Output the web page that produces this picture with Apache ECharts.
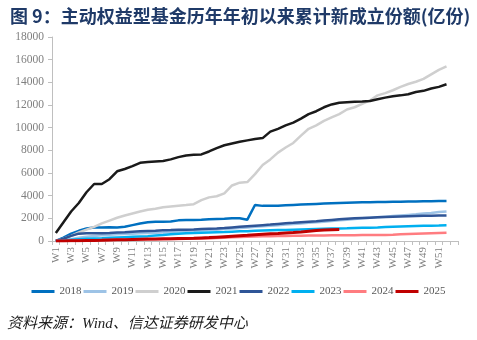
<!DOCTYPE html>
<html>
<head>
<meta charset="utf-8">
<script src="https://cdn.jsdelivr.net/npm/echarts@6/dist/echarts.min.js"></script>
<style>
  html, body { margin: 0; padding: 0; background: #fff; }
  #chart { width: 477px; height: 340px; }
</style>
</head>
<body>
<div id="chart"></div>
<script>
// Week labels (the trailing blank slot leaves room after W52)
const weeks = [];
for (let i = 1; i <= 52; i++) weeks.push('W' + i);
weeks.push('');

const years = ['2018', '2019', '2020', '2021', '2022', '2023', '2024', '2025'];
const colors = ['#0070C0', '#9DC3E6', '#CFCFCF', '#1A1A1A', '#2F5597', '#00B0F0', '#FF7C80', '#C00000'];

// Cumulative new fund shares since the start of each year (亿份), W1..W52
const s2018 = [0, 300, 650, 900, 1100, 1200, 1200, 1220, 1200, 1250, 1400, 1550, 1650, 1700, 1700, 1720, 1820, 1850, 1860, 1880, 1920, 1950, 1970, 2000, 2000, 1880, 3180, 3100, 3100, 3120, 3150, 3180, 3210, 3240, 3270, 3300, 3330, 3360, 3380, 3400, 3410, 3420, 3440, 3450, 3460, 3470, 3480, 3490, 3500, 3510, 3520, 3530];
const s2019 = [0, 50, 150, 280, 380, 450, 500, 550, 600, 620, 650, 680, 700, 730, 760, 800, 830, 860, 900, 930, 970, 1000, 1050, 1100, 1150, 1200, 1250, 1300, 1350, 1400, 1450, 1500, 1550, 1600, 1650, 1700, 1760, 1820, 1880, 1940, 2000, 2050, 2100, 2150, 2200, 2250, 2300, 2350, 2420, 2480, 2550, 2600];
const s2020 = [0, 200, 450, 750, 1000, 1250, 1550, 1800, 2050, 2250, 2430, 2600, 2750, 2850, 2980, 3050, 3120, 3180, 3250, 3600, 3850, 3950, 4200, 4900, 5150, 5200, 5900, 6700, 7200, 7800, 8250, 8650, 9300, 9900, 10200, 10600, 10900, 11200, 11600, 11800, 12100, 12400, 12850, 13050, 13300, 13600, 13850, 14050, 14300, 14700, 15100, 15400];
const s2021 = [700, 1650, 2600, 3350, 4300, 5030, 5030, 5450, 6150, 6350, 6600, 6900, 6970, 7020, 7060, 7200, 7400, 7550, 7600, 7640, 7900, 8200, 8450, 8600, 8750, 8880, 9000, 9080, 9650, 9900, 10200, 10450, 10800, 11200, 11450, 11800, 12050, 12200, 12250, 12280, 12300, 12350, 12500, 12650, 12780, 12850, 12950, 13150, 13250, 13450, 13600, 13830];
const s2022 = [0, 200, 450, 650, 680, 680, 690, 710, 740, 770, 810, 850, 880, 910, 950, 970, 1000, 1000, 1020, 1050, 1080, 1110, 1150, 1200, 1250, 1300, 1350, 1400, 1450, 1510, 1560, 1600, 1650, 1700, 1740, 1800, 1860, 1920, 1970, 2000, 2030, 2060, 2090, 2120, 2150, 2170, 2190, 2210, 2220, 2230, 2240, 2250];
const s2023 = [0, 50, 100, 150, 200, 230, 250, 280, 310, 340, 370, 400, 430, 480, 530, 600, 650, 680, 700, 730, 750, 770, 790, 820, 850, 870, 900, 920, 940, 960, 980, 1000, 1020, 1040, 1060, 1080, 1100, 1110, 1120, 1140, 1160, 1180, 1200, 1230, 1260, 1280, 1300, 1320, 1340, 1350, 1360, 1380];
const s2024 = [0, 10, 30, 50, 60, 70, 80, 90, 100, 110, 120, 130, 140, 150, 160, 170, 180, 190, 200, 210, 230, 260, 290, 320, 350, 380, 400, 420, 430, 440, 450, 460, 470, 480, 490, 490, 500, 500, 510, 510, 520, 520, 530, 540, 560, 590, 620, 650, 670, 690, 710, 730];
const s2025 = [0, 10, 20, 30, 40, 50, 60, 80, 100, 120, 140, 160, 170, 180, 190, 200, 210, 220, 240, 270, 300, 340, 380, 420, 460, 500, 560, 600, 630, 660, 700, 740, 800, 870, 930, 980, 1000, 1010];

const yTicks = { min: 0, max: 18000, interval: 2000 };

const seriesData = [s2018, s2019, s2020, s2021, s2022, s2023, s2024, s2025];
const widths = [2.5, 2.5, 2.5, 2.5, 2.5, 2.5, 2.5, 3];

const serif = '"Liberation Serif", "Times New Roman", serif';
const chart = echarts.init(document.getElementById('chart'), null, { renderer: 'canvas' });

chart.setOption({
  animation: false,
  color: colors,
  title: {
    text: '图 9：主动权益型基金历年年初以来累计新成立份额(亿份)',
    left: 5,
    top: 2,
    textStyle: {
      fontFamily: '"Noto Sans CJK SC", sans-serif',
      fontSize: 18,
      fontWeight: 'bold',
      color: '#1F3A68'
    }
  },
  graphic: [{
    type: 'text',
    left: 7,
    top: 317,
    style: {
      text: '资料来源：Wind、信达证券研发中心',
      font: 'italic 15px "Liberation Serif", "Noto Sans CJK SC", serif',
      fill: '#222'
    }
  }],
  legend: {
    top: 281,
    left: 'center',
    icon: 'rect',
    itemWidth: 23,
    itemHeight: 3,
    itemGap: 2,
    textStyle: { fontFamily: serif, fontSize: 11, color: '#595959' },
    data: years
  },
  grid: { left: 52, right: 19, top: 37, bottom: 99, containLabel: false },
  xAxis: {
    type: 'category',
    data: weeks,
    boundaryGap: true,
    axisLine: { lineStyle: { color: '#BFBFBF', width: 1 } },
    axisTick: { show: true, interval: 0, length: 4, lineStyle: { color: '#BFBFBF' } },
    axisLabel: {
      interval: 1,
      rotate: 90,
      margin: 6,
      fontFamily: serif,
      fontSize: 11,
      color: '#7F7F7F'
    },
    splitLine: { show: false }
  },
  yAxis: {
    type: 'value',
    min: yTicks.min,
    max: yTicks.max,
    interval: yTicks.interval,
    axisLine: { show: true, lineStyle: { color: '#BFBFBF', width: 1 } },
    axisTick: { show: true, length: 4, lineStyle: { color: '#BFBFBF' } },
    axisLabel: {
      margin: 8,
      fontFamily: serif,
      fontSize: 11.5,
      color: '#7F7F7F',
      formatter: (v) => String(v)
    },
    splitLine: { show: false }
  },
  series: years.map((y, i) => ({
    name: y,
    type: 'line',
    data: seriesData[i],
    symbol: 'none',
    showSymbol: false,
    lineStyle: { width: widths[i], color: colors[i] },
    itemStyle: { color: colors[i] },
    z: 2 + i
  }))
});
</script>
</body>
</html>
